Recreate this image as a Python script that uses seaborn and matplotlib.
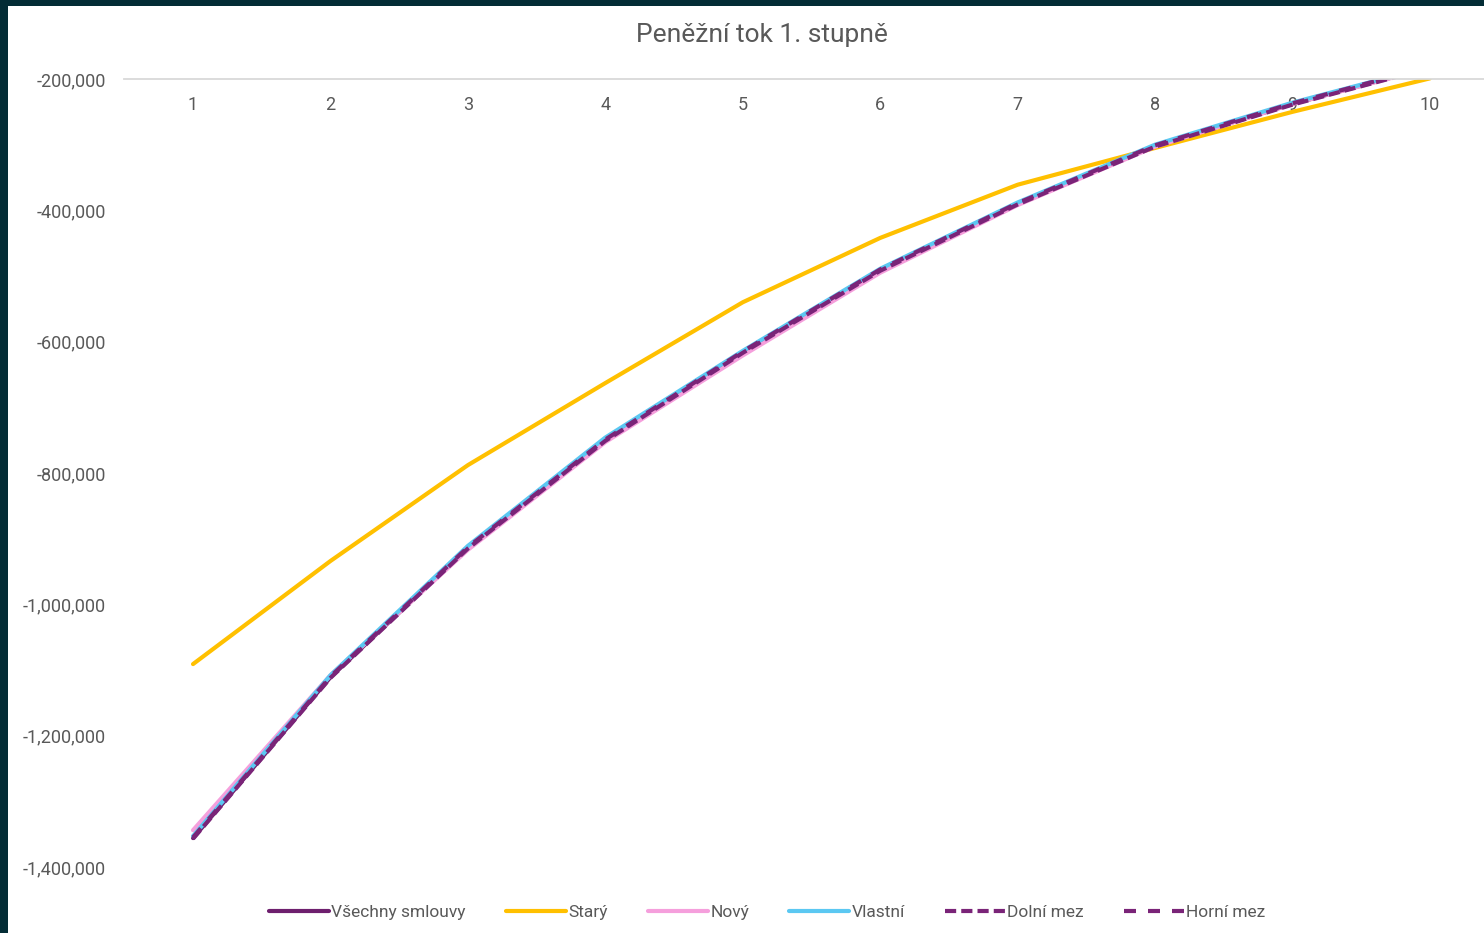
import matplotlib
matplotlib.use("Agg")
import matplotlib.pyplot as plt
import seaborn as sns
import pandas as pd
from matplotlib.patches import Rectangle
from matplotlib.ticker import FuncFormatter

years = [1, 2, 3, 4, 5, 6, 7, 8, 9, 10]
vsechny = [-1356000, -1111000, -914000, -750000, -616000, -491000, -390000, -302000, -238000, -182000]
stary = [-1091000, -934000, -788000, -663000, -540000, -442000, -361000, -305000, -250000, -199000]
novy = [-1344000, -1108000, -917000, -753000, -621000, -495000, -392000, -303000, -238000, -183000]
vlastni = [-1353000, -1108000, -911000, -746000, -614000, -489000, -388000, -300000, -236000, -181000]
dolni = [-1357000, -1112000, -915000, -751000, -617000, -492000, -391000, -303000, -239000, -183000]
horni = [-1355000, -1110000, -913000, -749000, -615000, -490000, -389000, -301000, -237000, -181000]

series = [
    ("Všechny smlouvy", vsechny, "#6e1f6e", None),
    ("Starý", stary, "#ffc000", None),
    ("Nový", novy, "#f59fdc", None),
    ("Vlastní", vlastni, "#5bc8f2", None),
    ("Dolní mez", dolni, "#7a2478", (2.68, 1.22)),
    ("Horní mez", horni, "#7a2478", (2.88, 2.88)),
]

sns.set_style("white")
plt.rcParams['font.family'] = ['Roboto', 'DejaVu Sans']

fig = plt.figure(figsize=(14.84, 9.33), dpi=100)
fig.patch.set_facecolor("#032c35")
fig.patches.append(Rectangle((8 / 1484, 0), 1, 1 - 6 / 933, transform=fig.transFigure,
                             facecolor="white", edgecolor="none", zorder=-5))

ax = fig.add_axes([124.3 / 1484, 1 - 867 / 933, 1374.4 / 1484, (867 - 79) / 933])
ax.set_facecolor("none")

for name, vals, color, dash in series:
    df = pd.DataFrame({"x": years, "y": vals})
    sns.lineplot(data=df, x="x", y="y", ax=ax, color=color, linewidth=3.0,
                 label=name, solid_capstyle="round")
    l = ax.get_lines()[-1]
    if dash is not None:
        l.set_dashes(dash)
        l.set_dash_capstyle("butt")

ax.set_xlim(0.5, 10.5)
ax.set_ylim(-1400000, -200000)
ax.set_yticks(range(-1400000, -199999, 200000))
ax.yaxis.set_major_formatter(FuncFormatter(lambda v, p: f"{int(v):,}"))
ax.set_xticks(years)
ax.set_xlabel("")
ax.set_ylabel("")
for s in ["left", "right", "bottom"]:
    ax.spines[s].set_visible(False)
ax.spines["top"].set_color("#d9d9d9")
ax.spines["top"].set_linewidth(1.3)
ax.tick_params(axis="x", bottom=False, top=False, labelbottom=False, labeltop=True,
               pad=-29, labelsize=13, labelcolor="#595959")
ax.tick_params(axis="y", left=False, pad=10, labelsize=13, labelcolor="#595959")

ax.get_legend().remove()
handles, labels = ax.get_legend_handles_labels()
fig.legend(handles, labels, loc="center", bbox_to_anchor=(0.517, 1 - 912 / 933), ncol=6,
           frameon=False, fontsize=12.5, handlelength=3.45, handletextpad=0.15,
           columnspacing=2.3, labelcolor="#595959")

fig.text(762 / 1484, 1 - 35 / 933, "Peněžní tok 1. stupně", ha="center", va="center",
         fontsize=19, color="#595959")

fig.savefig("out.png", dpi=100)
